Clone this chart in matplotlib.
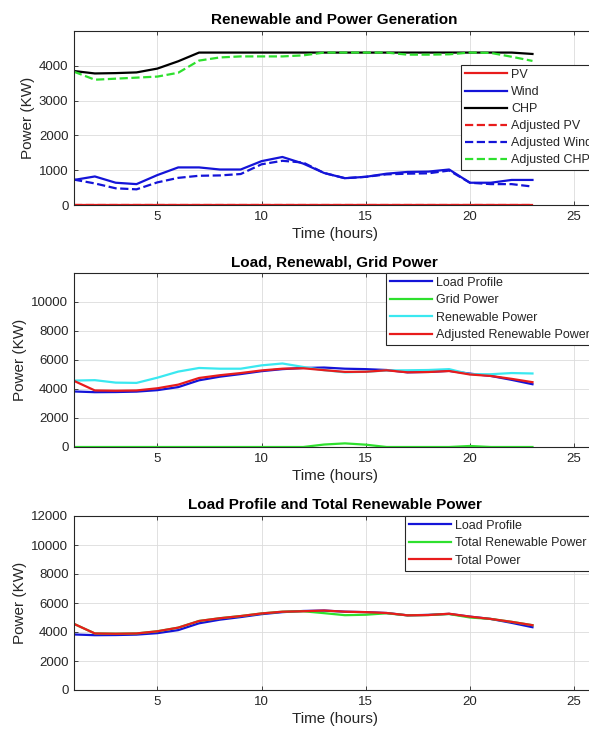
import matplotlib
matplotlib.use("Agg")
import matplotlib.pyplot as plt

plt.rcParams['font.family'] = ['Liberation Sans', 'DejaVu Sans']

hours = list(range(1, 24))

pv = [0] * 23
wind = [720, 820, 640, 600, 860, 1080, 1080, 1020, 1020, 1260, 1380, 1190,
        920, 770, 810, 900, 950, 960, 1020, 640, 640, 720, 720]
chp = [3850, 3780, 3790, 3810, 3920, 4130, 4380, 4380, 4380, 4380, 4380, 4380,
       4380, 4380, 4380, 4380, 4380, 4380, 4380, 4380, 4380, 4380, 4340]
adj_pv = [0] * 23
adj_wind = [730, 620, 480, 450, 650, 780, 840, 850, 890, 1170, 1270, 1220,
            920, 770, 810, 880, 900, 910, 990, 640, 600, 600, 530]
adj_chp = [3830, 3600, 3630, 3660, 3690, 3800, 4150, 4240, 4270, 4270, 4270, 4300,
           4380, 4380, 4380, 4380, 4320, 4320, 4330, 4380, 4370, 4260, 4140]

load = [3830, 3780, 3790, 3820, 3920, 4130, 4600, 4850, 5030, 5230, 5370, 5450,
        5480, 5400, 5370, 5310, 5150, 5180, 5250, 5060, 4900, 4630, 4330]
grid = [0, 0, 0, 0, 0, 0, 0, 0, 0, 0, 0, 0,
        170, 250, 160, 0, 0, 0, 0, 70, 0, 0, 0]
renewable = [4580, 4610, 4440, 4420, 4780, 5200, 5450, 5400, 5400, 5630, 5760, 5520,
             5300, 5150, 5190, 5280, 5290, 5310, 5370, 5020, 5020, 5100, 5070]
adj_renewable = [4560, 3900, 3880, 3900, 4050, 4300, 4760, 4950, 5100, 5280, 5400, 5430,
                 5300, 5180, 5190, 5290, 5150, 5170, 5240, 5000, 4900, 4700, 4470]
total_renewable = [4560, 3900, 3880, 3900, 4050, 4300, 4760, 4950, 5100, 5280, 5400, 5430,
                   5300, 5160, 5190, 5290, 5150, 5170, 5240, 5000, 4900, 4700, 4470]
total_power = [4560, 3900, 3880, 3900, 4050, 4300, 4760, 4950, 5100, 5280, 5400, 5430,
               5480, 5400, 5370, 5310, 5150, 5170, 5260, 5060, 4900, 4700, 4470]

RED = '#e81c1c'
BLUE = '#1414d8'
GREEN = '#2ee02e'
CYAN = '#3ae8f0'
BLACK = '#000000'
AX = '#262626'

W, H = 589, 731
fig = plt.figure(figsize=(W / 100, H / 100), dpi=100)

left_px, right_px = 74, 595
ax_h = 174


def make_ax(top_px):
    bottom_px = top_px + ax_h
    ax = fig.add_axes([left_px / W, 1 - bottom_px / H, (right_px - left_px) / W, ax_h / H])
    ax.set_xlim(1, 26)
    ax.set_xticks([5, 10, 15, 20, 25])
    ax.grid(True, color='#dcdcdc', linewidth=0.6)
    ax.set_axisbelow(True)
    for s in ax.spines.values():
        s.set_color(AX)
        s.set_linewidth(0.8)
    ax.tick_params(direction='in', length=3, width=0.6, colors=AX, labelsize=9.5,
                   top=True, right=True, pad=4)
    ax.set_xlabel('Time (hours)', fontsize=11, color=AX, labelpad=3)
    ax.set_ylabel('Power (KW)', fontsize=11, color=AX, labelpad=3)
    return ax


def legend(ax, x_px, y_px, labelspacing=0.32):
    leg = ax.legend(loc='upper left', bbox_to_anchor=(x_px / W, 1 - y_px / H),
                    bbox_transform=fig.transFigure, borderaxespad=0, fontsize=9,
                    frameon=True, fancybox=False, framealpha=1, edgecolor=AX,
                    handlelength=3.4, handletextpad=0.3, labelspacing=labelspacing,
                    borderpad=0.3)
    leg.get_frame().set_linewidth(0.8)
    for t in leg.get_texts():
        t.set_color(AX)
    return leg


lw = 1.6

# Panel 1
ax1 = make_ax(31)
ax1.plot(hours, pv, color=RED, lw=lw, label='PV')
ax1.plot(hours, wind, color=BLUE, lw=lw, label='Wind')
ax1.plot(hours, chp, color=BLACK, lw=lw, label='CHP')
ax1.plot(hours, adj_pv, color=RED, lw=lw, ls='--', label='Adjusted PV')
ax1.plot(hours, adj_wind, color=BLUE, lw=lw, ls='--', label='Adjusted Wind')
ax1.plot(hours, adj_chp, color=GREEN, lw=lw, ls='--', label='Adjusted CHP')
ax1.set_ylim(0, 5000)
ax1.set_yticks([0, 1000, 2000, 3000, 4000])
ax1.set_title('Renewable and Power Generation', fontsize=11, fontweight='bold', pad=5)
legend(ax1, 461, 65, labelspacing=0.41)

# Panel 2
ax2 = make_ax(273)
ax2.plot(hours, load, color=BLUE, lw=lw, label='Load Profile')
ax2.plot(hours, grid, color=GREEN, lw=lw, label='Grid Power')
ax2.plot(hours, renewable, color=CYAN, lw=lw, label='Renewable Power')
ax2.plot(hours, adj_renewable, color=RED, lw=lw, label='Adjusted Renewable Power')
ax2.set_ylim(0, 12000)
ax2.set_yticks([0, 2000, 4000, 6000, 8000, 10000])
ax2.set_title('Load, Renewabl, Grid Power', fontsize=11, fontweight='bold', pad=5)
legend(ax2, 386, 273, labelspacing=0.44)

# Panel 3
ax3 = make_ax(516)
ax3.plot(hours, load, color=BLUE, lw=lw, label='Load Profile')
ax3.plot(hours, total_renewable, color=GREEN, lw=lw, label='Total Renewable Power')
ax3.plot(hours, total_power, color=RED, lw=lw, label='Total Power')
ax3.set_ylim(0, 12000)
ax3.set_yticks([0, 2000, 4000, 6000, 8000, 10000, 12000])
ax3.set_title('Load Profile and Total Renewable Power', fontsize=11, fontweight='bold', pad=5)
legend(ax3, 405, 516, labelspacing=0.44)

fig.savefig('out.png', dpi=100)
